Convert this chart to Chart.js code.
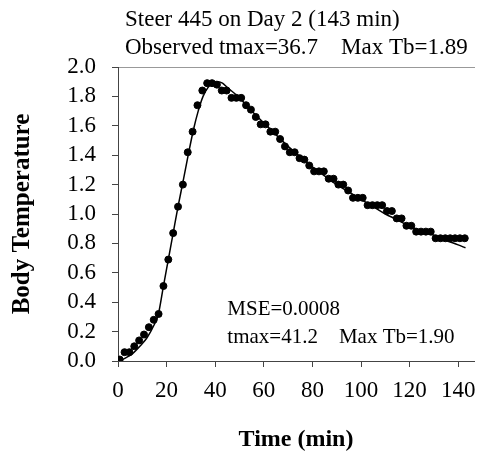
<!DOCTYPE html>
<html>
<head>
<meta charset="utf-8">
<script src="https://cdn.jsdelivr.net/npm/chart.js@4/dist/chart.umd.min.js"></script>
<style>
  html, body { margin: 0; padding: 0; background: #fff; }
  #wrap { width: 479px; height: 454px; }
</style>
</head>
<body>
<div id="wrap"><canvas id="chart" width="479" height="454"></canvas></div>
<script>
// observed body temperature, one reading about every 2 min
const obsTime = [0.7, 2.7, 4.7, 6.7, 8.7, 10.7, 12.7, 14.7, 16.7, 18.7,
    20.7, 22.7, 24.7, 26.7, 28.7, 30.7, 32.7, 34.7, 36.7, 38.7,
    40.7, 42.7, 44.7, 46.7, 48.7, 50.7, 52.7, 54.7, 56.7, 58.7,
    60.7, 62.7, 64.7, 66.7, 68.7, 70.7, 72.7, 74.7, 76.7, 78.7,
    80.7, 82.7, 84.7, 86.7, 88.7, 90.7, 92.7, 94.7, 96.7, 98.7,
    100.7, 102.7, 104.7, 106.7, 108.7, 110.7, 112.7, 114.7, 116.7, 118.7,
    120.7, 122.7, 124.7, 126.7, 128.7, 130.7, 132.7, 134.7, 136.7, 138.7,
    140.7, 142.7];
const obsTb = [0.01, 0.06, 0.06, 0.10, 0.14, 0.18, 0.23, 0.28, 0.32, 0.51,
    0.69, 0.87, 1.05, 1.20, 1.42, 1.56, 1.74, 1.84, 1.89, 1.89,
    1.88, 1.84, 1.84, 1.79, 1.79, 1.79, 1.74, 1.71, 1.66, 1.61,
    1.61, 1.56, 1.56, 1.51, 1.46, 1.42, 1.42, 1.38, 1.37, 1.33,
    1.29, 1.29, 1.29, 1.24, 1.24, 1.20, 1.20, 1.16, 1.11, 1.11,
    1.11, 1.06, 1.06, 1.06, 1.06, 1.02, 1.02, 0.97, 0.97, 0.92,
    0.92, 0.88, 0.88, 0.88, 0.88, 0.835, 0.835, 0.835, 0.835, 0.835,
    0.835, 0.835];

// fitted curve
const fitTime = [0, 3, 6, 9, 12, 15, 16.5, 18.7, 20.7, 22.7, 24.7, 27, 29, 31, 33, 35, 37, 39, 41.2,
    43, 45, 48, 50, 55, 60, 65, 70, 75, 80, 85, 90, 95, 100, 105, 110, 115, 120, 125, 130, 135, 140, 143];
const fitTb = [0, 0.02, 0.05, 0.10, 0.16, 0.25, 0.31, 0.51, 0.69, 0.87, 1.05, 1.24, 1.41, 1.57, 1.70, 1.80, 1.86, 1.89, 1.90,
    1.89, 1.86, 1.82, 1.79, 1.70, 1.62, 1.54, 1.46, 1.39, 1.32, 1.26, 1.20, 1.15, 1.10, 1.05, 1.00, 0.96, 0.915, 0.885, 0.855, 0.82, 0.79, 0.77];

const titleLines = ['Steer 445 on Day 2 (143 min)', 'Observed tmax=36.7    Max Tb=1.89'];
const fitLines = ['MSE=0.0008', 'tmax=41.2    Max Tb=1.90'];
const xTicks = [0, 20, 40, 60, 80, 100, 120, 140];

const serif = '"Liberation Serif", "Times New Roman", serif';

// heading above the frame and the fit summary inside it
const chartText = {
    id: 'chartText',
    afterDatasetsDraw(chart) {
        const { ctx, scales, chartArea } = chart;
        ctx.save();
        ctx.fillStyle = '#000';
        ctx.textBaseline = 'middle';
        ctx.textAlign = 'left';
        ctx.font = '23px ' + serif;
        ctx.fillText(titleLines[0], chartArea.left + 7, 20);
        ctx.fillText(titleLines[1], chartArea.left + 7, 48);
        ctx.font = '21px ' + serif;
        ctx.fillText(fitLines[0], scales.x.getPixelForValue(45), scales.y.getPixelForValue(0.35));
        ctx.fillText(fitLines[1], scales.x.getPixelForValue(45), scales.y.getPixelForValue(0.16));
        ctx.restore();
    }
};

new Chart(document.getElementById('chart'), {
    type: 'scatter',
    data: {
        datasets: [
            {
                label: 'fit',
                type: 'line',
                data: fitTime.map((t, i) => ({ x: t, y: fitTb[i] })),
                borderColor: '#000',
                borderWidth: 1.5,
                pointRadius: 0,
                fill: false,
                cubicInterpolationMode: 'monotone',
                order: 2
            },
            {
                label: 'observed',
                data: obsTime.map((t, i) => ({ x: t, y: obsTb[i] })),
                backgroundColor: '#000',
                borderColor: '#000',
                borderWidth: 1,
                pointRadius: 3.5,
                order: 1
            }
        ]
    },
    options: {
        responsive: false,
        animation: false,
        devicePixelRatio: 1,
        layout: { padding: { top: 67, right: 0, left: 0, bottom: 0 } },
        plugins: {
            legend: { display: false },
            tooltip: { enabled: false },
            title: { display: false }
        },
        scales: {
            x: {
                type: 'linear',
                min: 0,
                max: 146.5,
                afterFit: s => { s.height = 93; s.paddingRight = 0; },
                afterBuildTicks: s => { s.ticks = xTicks.map(v => ({ value: v })); },
                border: { display: true, color: '#444', width: 1 },
                grid: { display: true, drawOnChartArea: false, drawTicks: true, tickLength: 6, color: '#444' },
                ticks: { color: '#000', padding: 10, maxRotation: 0, autoSkip: false, font: { family: serif, size: 23 } },
                title: {
                    display: true,
                    text: 'Time (min)',
                    color: '#000',
                    font: { family: serif, size: 24, weight: 'bold' },
                    padding: { top: 15, bottom: 0 }
                }
            },
            x2: {
                type: 'linear',
                position: 'top',
                min: 0,
                max: 146.5,
                afterFit: s => { s.height = 0; s.paddingRight = 0; },
                border: { display: true, color: '#999', width: 1 },
                grid: { display: false },
                ticks: { display: false }
            },
            y: {
                min: 0,
                max: 2,
                afterFit: s => { s.width = 118; },
                border: { display: true, color: '#444', width: 1 },
                grid: { display: true, drawOnChartArea: false, drawTicks: true, tickLength: 6, color: '#444' },
                ticks: {
                    stepSize: 0.2,
                    autoSkip: false,
                    color: '#000',
                    padding: 16,
                    font: { family: serif, size: 23 },
                    callback: v => v.toFixed(1)
                },
                title: {
                    display: true,
                    text: 'Body Temperature',
                    color: '#000',
                    font: { family: serif, size: 25, weight: 'bold' },
                    padding: { top: 8, bottom: 0 }
                }
            }
        }
    },
    plugins: [chartText]
});
</script>
</body>
</html>
